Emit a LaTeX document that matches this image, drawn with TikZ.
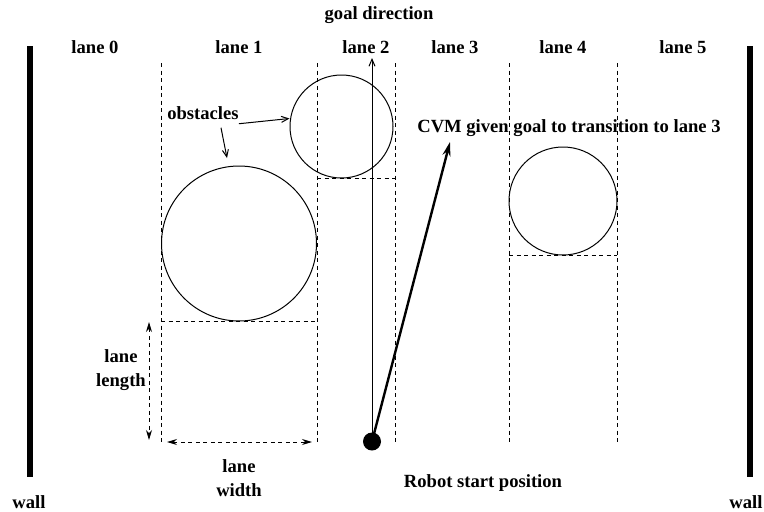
\documentclass[tikz,border=0pt]{standalone}
\usepackage{fontspec}
\setmainfont{Liberation Serif}
\usetikzlibrary{arrows.meta}

\tikzset{
  lbl/.style={font=\fontsize{18.6}{24}\selectfont\bfseries, inner sep=0pt, align=center},
  sep/.style={dash pattern=on 4pt off 3.5pt, line width=.9pt},
  wallbar/.style={line width=5.5pt},
  obst/.style={draw, circle, line width=1pt, inner sep=0pt},
  pointer/.style={line width=1pt, -{Straight Barb[length=7pt,width=6pt]}},
  measure/.style={sep, {Stealth[length=10pt,width=6pt]}-{Stealth[length=10pt,width=6pt]}}
}

\begin{document}
\begin{tikzpicture}[x=1pt,y=-1pt]

            \useasboundingbox (0,0) rectangle (764,512);

            % Walls on both sides
            \coordinate (wl1) at (30,46);
            \coordinate (wl2) at (30,477);
            \coordinate (wr1) at (750,46);
            \coordinate (wr2) at (750,477);
            \draw[wallbar] (wl1) -- (wl2);
            \draw[wallbar] (wr1) -- (wr2);
            \node[lbl] (walll) at (29,502) {wall};
            \node[lbl] (wallr) at (746,502) {wall};

            % Lane separators (loop)
            \foreach \x [count=\i] in {161,317,395,509,617} {
                \coordinate (t\i) at (\x,63);
                \coordinate (b\i) at (\x,442);
                \draw[sep] (t\i) -- (b\i);
            }

            % Lane labels (loop)
            \foreach \x [count=\i from 0] in {95,239,366,455,563,683}
                \node[lbl] (lane\i) at (\x,47) {lane \i};

            % Obstacles
            \node[obst, minimum size=155pt] (obsA) at (239,243.5) {};
            \node[obst, minimum size=103pt] (obsB) at (341.5,126.5) {};
            \node[obst, minimum size=108pt] (obsC) at (563,201) {};

            % Dashed lines under the obstacles
            \draw[sep] (obsA.south -| t1) -- (obsA.south -| t2);
            \draw[sep] (obsB.south -| t2) -- (obsB.south -| t3);
            \draw[sep] (obsC.south -| t4) -- (obsC.south -| t5);

            \node[lbl] (obslbl) at (203,113) {obstacles};
            \draw[pointer] ([yshift=-4pt]obslbl.south east) -- ([yshift=8pt]obsB.west);
            \draw[pointer] ([xshift=18pt,yshift=-8pt]obslbl.south) -- (227,158);

            % Robot and its headings
            \node[circle, fill, minimum size=18pt, inner sep=0pt] (robot) at (372,441.5) {};
            \node[lbl] (robotlbl) at (483,483) {Robot start position};

            \node[lbl] (goallbl) at (379,15) {goal direction};
            \coordinate (goal) at (372,58);
            \draw[pointer] (robot.center) -- (goal);

            \node[lbl] (cvmlbl) at (569,128) {CVM given goal to transition to lane 3};
            \coordinate (cvm) at (450,142);
            \draw[line width=2.4pt, -{Stealth[length=14pt,width=8pt]}] (robot.center) -- (cvm);

            % Lane size
            \coordinate (len1) at (149,322);
            \coordinate (len2) at (149,440);
            \draw[measure] (len1) -- (len2);
            \node[lbl, anchor=east] (lenlbl) at (146,370) {lane\\length};

            \coordinate (wid1) at (167,442);
            \coordinate (wid2) at (312,442);
            \draw[measure] (wid1) -- (wid2);
            \node[lbl] (widlbl) at (239,478) {lane\\width};

        \end{tikzpicture}
\end{document}
